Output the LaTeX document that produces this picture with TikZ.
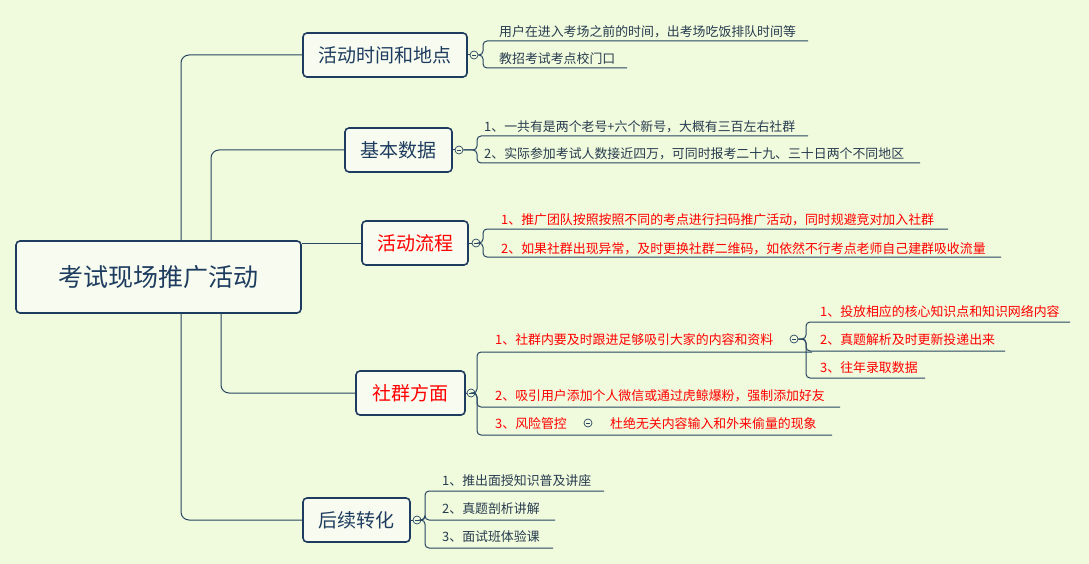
\documentclass[tikz,border=0pt]{standalone}
\usepackage{fontspec}
\setmainfont{Noto Sans CJK SC}
\begin{document}
\begin{tikzpicture}[x=1pt,y=-1pt,
  ln/.style={draw=lnc,line width=1pt},
  box/.style={draw=boxc,line width=1.6pt,rounded corners=4pt,fill=boxf,inner sep=0pt,font=\fontsize{19}{19}\selectfont,text=boxc},
  kid/.style={anchor=base west,inner sep=0pt,font=\fontsize{12.9}{13}\selectfont,text=kidc},
  red/.style={text=red},
  col/.style={circle,draw=lnc,fill=bg,line width=0.7pt,minimum size=8pt,inner sep=0pt,
    path picture={\draw[lnc,line width=0.6pt](path picture bounding box.west)++(2pt,0)--++(4pt,0);}}]
\definecolor{bg}{RGB}{240,250,220}
\definecolor{lnc}{RGB}{40,70,100}
\definecolor{boxc}{RGB}{30,60,95}
\definecolor{boxf}{RGB}{248,252,240}
\definecolor{kidc}{RGB}{40,60,80}
\fill[bg] (0,0) rectangle (1089,564);
\useasboundingbox (0,0) rectangle (1089,564);
% boxes
\node[box,minimum width=285pt,minimum height=72pt,font=\fontsize{25}{25}\selectfont] (root) at (158.5,277) {考试现场推广活动};
\node[box,minimum width=164pt,minimum height=44pt] (b1) at (385,55) {活动时间和地点};
\node[box,minimum width=107pt,minimum height=44pt] (b2) at (398.5,150) {基本数据};
\node[box,minimum width=106pt,minimum height=44pt,text=red] (b3) at (415,243) {活动流程};
\node[box,minimum width=109pt,minimum height=44pt,text=red] (b4) at (410.5,393) {社群方面};
\node[box,minimum width=107pt,minimum height=44pt] (b5) at (356.5,520) {后续转化};
% trunks
\draw[ln,rounded corners=8pt] (181,241) -- (181,55) -- (b1.west);
\draw[ln,rounded corners=8pt] (211,241) -- (211,150) -- (b2.west);
\draw[ln] (root.east|-0,243) -- (b3.west);
\draw[ln,rounded corners=8pt] (221,313) -- (221,393) -- (b4.west);
\draw[ln,rounded corners=8pt] (181,313) -- (181,520) -- (b5.west);
% group 1
\node[col] (c1) at (474,55) {};
\foreach \y/\e in {41/808,68/627} \draw[ln,rounded corners=4pt] (c1.east) -- (483,55) -- (483,\y) -- (\e,\y);
\node[kid] (t11) at (499,37) {用户在进入考场之前的时间，出考场吃饭排队时间等};
\node[kid] (t12) at (499,64) {教招考试考点校门口};
\draw[ln] (b1.east) -- (c1);
% group 2
\node[col] (c2) at (459,150) {};
\draw[ln] (b2.east) -- (c2);
\foreach \y/\e in {136/808,163/920} \draw[ln,rounded corners=4pt] (c2.east) -- (477,150) -- (477,\y) -- (\e,\y);
\node[kid] (t21) at (484,132) {1、一共有是两个老号+六个新号，大概有三百左右社群};
\node[kid] (t22) at (484,159) {2、实际参加考试人数接近四万，可同时报考二十九、三十日两个不同地区};
% group 3
\node[col] (c3) at (476,243) {};
\draw[ln] (b3.east) -- (c3);
\foreach \y/\e in {229/948,257/1001} \draw[ln,rounded corners=4pt] (c3.east) -- (483,243) -- (483,\y) -- (\e,\y);
\node[kid,red] (t31) at (501,225) {1、推广团队按照按照不同的考点进行扫码推广活动，同时规避竞对加入社群};
\node[kid,red] (t32) at (501,253) {2、如果社群出现异常，及时更换社群二维码，如依然不行考点老师自己建群吸收流量};
% group 4
\node[col] (c4) at (471,393) {};
\draw[ln] (b4.east) -- (c4);
\foreach \y/\e in {352/812,407/840,435/832} \draw[ln,rounded corners=4pt] (c4.east) -- (477,393) -- (477,\y) -- (\e,\y);
\node[kid,red] (t41) at (495,344) {1、社群内要及时跟进足够吸引大家的内容和资料};
\node[kid,red] (t42) at (495,400) {2、吸引用户添加个人微信或通过虎鲸爆粉，强制添加好友};
\node[kid,red] (t43) at (495,428) {3、风险管控};
\node[col] (c43) at (588,423) {};
\node[kid,red] (t44) at (610,428) {杜绝无关内容输入和外来偷量的现象};
\node[col] (c41) at (794,339) {};
\foreach \y/\e in {322/1070,351/1005,378/925} \draw[ln,rounded corners=4pt] (c41.east) -- (806,339) -- (806,\y) -- (\e,\y);
\node[kid,red] (t411) at (820,316) {1、投放相应的核心知识点和知识网络内容};
\node[kid,red] (t412) at (820,344) {2、真题解析及时更新投递出来};
\node[kid,red] (t413) at (820,372) {3、往年录取数据};
% group 5
\node[col] (c5) at (417,520) {};
\draw[ln] (b5.east) -- (c5);
\foreach \y/\e in {491/604,520/555,548/553} \draw[ln,rounded corners=4pt] (c5.east) -- (425,520) -- (425,\y) -- (\e,\y);
\node[kid] (t51) at (442,485) {1、推出面授知识普及讲座};
\node[kid] (t52) at (442,513) {2、真题剖析讲解};
\node[kid] (t53) at (442,541) {3、面试班体验课};
\end{tikzpicture}
\end{document}
